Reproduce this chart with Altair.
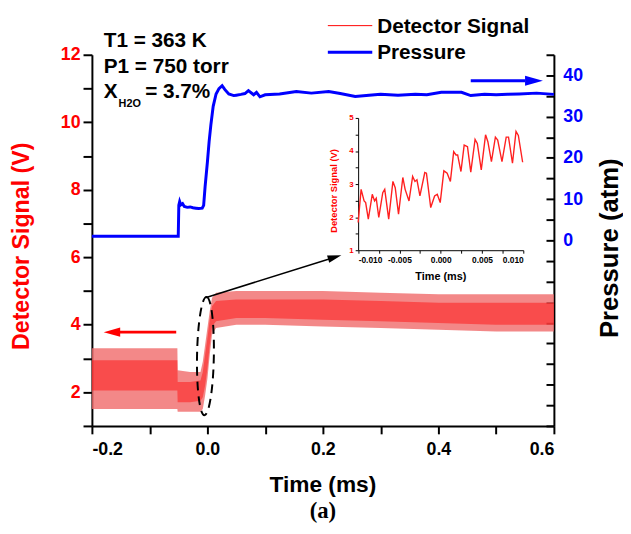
import altair as alt
import pandas as pd

# ---------------- data ----------------
# Detector signal (dense oscillation drawn as its envelope)
band_t  = [-0.2, -0.1, -0.052, -0.0515, -0.03, -0.012, -0.008, -0.004, 0.0, 0.004, 0.008, 0.015, 0.05, 0.1, 0.2, 0.3, 0.4, 0.5, 0.6]
band_lo = [1.5, 1.5, 1.5, 1.42, 1.42, 1.42, 1.5, 1.9, 2.4, 3.1, 3.7, 3.9, 4.0, 4.0, 3.95, 3.9, 3.85, 3.8, 3.8]
band_hi = [3.3, 3.3, 3.3, 2.65, 2.6, 2.6, 2.9, 3.4, 3.9, 4.4, 4.8, 4.95, 5.0, 5.0, 5.0, 4.95, 4.9, 4.9, 4.9]
core_lo = [2.05, 2.05, 2.05, 1.7, 1.7, 1.75, 1.85, 2.2, 2.7, 3.4, 3.95, 4.1, 4.2, 4.2, 4.15, 4.1, 4.05, 4.0, 4.0]
core_hi = [2.95, 2.95, 2.95, 2.3, 2.3, 2.35, 2.6, 3.1, 3.6, 4.15, 4.55, 4.7, 4.75, 4.75, 4.75, 4.7, 4.65, 4.65, 4.65]

# Pressure (atm)
p_t = [-0.2, -0.0505, -0.0495, -0.048, -0.046, -0.043, -0.04, -0.035, -0.03, -0.025, -0.02, -0.015, -0.009,
       -0.0065, -0.004, 0.0, 0.003, 0.006, 0.01, 0.015, 0.02, 0.0255, 0.03, 0.037, 0.0456, 0.05, 0.058, 0.065,
       0.071, 0.08, 0.085, 0.091, 0.1, 0.125, 0.154, 0.18, 0.21, 0.23, 0.256, 0.28, 0.3, 0.33, 0.36, 0.38,
       0.405, 0.44, 0.456, 0.48, 0.5, 0.52, 0.54, 0.57, 0.6]
p_v = [1.0, 1.0, 8.5, 9.4, 8.6, 8.9, 8.2, 8.0, 8.1, 7.9, 7.8, 7.7, 7.8,
       8.5, 13.0, 19.0, 24.0, 28.0, 32.5, 35.5, 36.8, 37.5, 36.6, 35.5, 35.1, 35.2, 35.4, 35.6,
       36.3, 35.3, 35.9, 34.8, 35.3, 35.5, 36.1, 35.7, 36.1, 35.6, 34.9, 35.2, 35.4, 35.2, 35.4, 35.3,
       35.9, 35.9, 35.1, 35.4, 35.3, 35.4, 35.5, 35.7, 35.4]

# Inset trace
ins_t = [-0.0100, -0.00964, -0.00928, -0.00909, -0.00877, -0.00829, -0.00801, -0.00781, -0.00750, -0.00702,
         -0.00678, -0.00630, -0.00579, -0.00551, -0.00511, -0.00459, -0.00431, -0.00384, -0.00340, -0.00312,
         -0.00288, -0.00252, -0.00193, -0.00173, -0.00121, -0.00074, -0.00042, -0.00006, 0.00038, 0.00078,
         0.00117, 0.00157, 0.00185, 0.00205, 0.00245, 0.00284, 0.00324, 0.00364, 0.00416, 0.00443,
         0.00491, 0.00543, 0.00571, 0.00614, 0.00662, 0.00690, 0.00742, 0.00793, 0.00821, 0.00869,
         0.00912, 0.00940, 0.00992]
ins_v = [1.84, 2.84, 2.49, 2.44, 1.94, 2.69, 2.49, 2.57, 1.99, 2.74,
         2.84, 1.94, 3.08, 2.89, 2.09, 3.20, 2.84, 2.49, 3.23, 3.08,
         3.13, 2.64, 3.35, 3.33, 2.29, 2.64, 2.69, 2.44, 3.40, 3.33,
         3.08, 3.98, 3.88, 3.88, 3.38, 4.18, 4.13, 3.36, 4.35, 4.23,
         3.43, 4.49, 4.28, 3.68, 4.42, 4.33, 3.68, 4.42, 4.42, 3.63,
         4.59, 4.47, 3.66]

x_ticks = [-0.2, -0.1, 0.0, 0.1, 0.2, 0.3, 0.4, 0.5, 0.6]
yl_ticks = list(range(1, 13))
yr_ticks = list(range(-45, 50, 5))
ix_ticks = [-0.01, -0.0075, -0.005, -0.0025, 0.0, 0.0025, 0.005, 0.0075, 0.01]
iy_ticks = [1, 1.5, 2, 2.5, 3, 3.5, 4, 4.5, 5]

# annotation anchors (data coordinates)
ell_t, ell_v = [-0.0034], [3.07]
conn_t, conn_v = [-0.0034, 0.2205], [4.80, 6.0]
rarrow_t, rarrow_v = [-0.054, -0.16], [3.78, 3.78]
rhead_t, rhead_v = [-0.1653], [3.78]
barrow_t, barrow_v = [0.456, 0.550], [38.7, 38.7]
bhead_t, bhead_v = [0.5655], [38.7]

FONT = "Liberation Sans"
RED = "#ff0000"
BLUE = "#0000ff"
W, H = 468, 376

xs = alt.Scale(domain=[-0.2, 0.6], nice=False, zero=False)
yl = alt.Scale(domain=[1, 12], nice=False, zero=False)
yr = alt.Scale(domain=[-45, 45], nice=False, zero=False)

common = dict(grid=False, domainColor="black", domainWidth=2, tickColor="black", tickWidth=2,
              labelFont=FONT, labelFontWeight="bold", title=None)

x_axis = alt.Axis(orient="bottom", values=x_ticks, tickSize=8, labelPadding=7, labelFontSize=18,
                  labelColor="black",
                  labelExpr="round(datum.value*10) % 2 == 0 ? (datum.value < 0 ? '-' + format(-datum.value, '.1f') : format(datum.value, '.1f')) : ''",
                  **common)
yl_axis = alt.Axis(orient="left", values=yl_ticks, tickSize=9, labelPadding=3, labelFontSize=18,
                   labelColor=RED, labelExpr="datum.value % 2 == 0 ? datum.label : ''", **common)
yr_axis = alt.Axis(orient="left", offset=-W, values=yr_ticks, tickSize=8, labelPadding=-17,
                   labelAlign="left", labelFontSize=18, labelColor=BLUE,
                   labelExpr="(datum.value >= 0 && datum.value <= 40 && datum.value % 10 == 0) ? datum.label : ''",
                   **common)

small = dict(grid=False, domainColor="black", domainWidth=1, tickColor="black", tickWidth=1,
             labelFont=FONT, labelFontWeight="bold", title=None)
ix_axis = alt.Axis(orient="bottom", offset=-178, values=ix_ticks, tickSize=3, labelPadding=2,
                   labelFontSize=8.5, labelColor="black",
                   labelExpr="round(datum.value*10000) % 50 == 0 ? (datum.value < 0 ? '-' + format(-datum.value, '.3f') : format(datum.value, '.3f')) : ''",
                   **small)
iy_axis = alt.Axis(orient="left", offset=-269.7, values=iy_ticks, tickSize=3, labelPadding=2,
                   labelFontSize=8, labelColor=RED,
                   labelExpr="datum.value % 1 == 0 ? format(datum.value, 'd') : ''", **small)

band_df = pd.DataFrame({"t": band_t, "lo": band_lo, "hi": band_hi, "clo": core_lo, "chi": core_hi})

band = alt.Chart(band_df).mark_area(color="#f06a6a", opacity=0.8).encode(
    x=alt.X("t:Q", scale=xs, axis=x_axis),
    y=alt.Y("lo:Q", scale=yl, axis=yl_axis),
    y2="hi:Q")
core = alt.Chart(band_df).mark_area(color="#ff1010", opacity=0.5).encode(
    x=alt.X("t:Q", scale=xs, axis=None),
    y=alt.Y("clo:Q", scale=yl, axis=None),
    y2="chi:Q")

press = alt.Chart(pd.DataFrame({"t": p_t, "p": p_v})).mark_line(color=BLUE, strokeWidth=3).encode(
    x=alt.X("t:Q", scale=xs, axis=None),
    y=alt.Y("p:Q", scale=yr, axis=yr_axis))

inset = alt.Chart(pd.DataFrame({"t": ins_t, "v": ins_v})).mark_line(color="#ff2020", strokeWidth=1.4).encode(
    x=alt.X("t:Q", scale=alt.Scale(domain=[-0.01, 0.01], range=[269.7, 437], nice=False, zero=False), axis=ix_axis),
    y=alt.Y("v:Q", scale=alt.Scale(domain=[1, 5], range=[198, 64], nice=False, zero=False), axis=iy_axis))

ELLIPSE = ("M0,-1 C0.0784,-1 0.142,-0.5523 0.142,0 C0.142,0.5523 0.0784,1 0,1 "
           "C-0.0784,1 -0.142,0.5523 -0.142,0 C-0.142,-0.5523 -0.0784,-1 0,-1 Z")
HEAD_R = "M1,0 L-1,-0.55 L-1,0.55 Z"
HEAD_L = "M-1,0 L1,-0.55 L1,0.55 Z"


def pts(ts, vs):
    return alt.Chart(pd.DataFrame({"t": ts, "v": vs}))


def enc(ch, yscale):
    return ch.encode(x=alt.X("t:Q", scale=xs, axis=None), y=alt.Y("v:Q", scale=yscale, axis=None))


ellipse = enc(pts(ell_t, ell_v).mark_point(shape=ELLIPSE, size=14400, filled=False, color="black",
                                           strokeWidth=2, strokeDash=[9, 6], opacity=1, angle=1), yl)
conn = enc(pts(conn_t, conn_v).mark_line(color="black", strokeWidth=1.5), yl)
conn_head = enc(pts([conn_t[1]], [conn_v[1]]).mark_point(shape=HEAD_R, size=196, filled=True,
                                                         color="black", opacity=1, angle=343), yl)
r_line = enc(pts(rarrow_t, rarrow_v).mark_line(color=RED, strokeWidth=3), yl)
r_head = enc(pts(rhead_t, rhead_v).mark_point(shape=HEAD_L, size=279, filled=True, color=RED,
                                              opacity=1), yl)
b_line = enc(pts(barrow_t, barrow_v).mark_line(color=BLUE, strokeWidth=3), yr)
b_head = enc(pts(bhead_t, bhead_v).mark_point(shape=HEAD_R, size=324, filled=True, color=BLUE,
                                              opacity=1), yr)

dummy = pd.DataFrame({"a": [0]})


def txt(s, x, y, size, color="black", angle=0, align="left", font=FONT, weight="bold"):
    return alt.Chart(dummy).mark_text(text=s, fontSize=size, font=font, fontWeight=weight, color=color,
                                      align=align, baseline="alphabetic", angle=angle).encode(
        x=alt.value(x), y=alt.value(y))


def hline(x1, x2, y, color, width):
    return alt.Chart(dummy).mark_rule(color=color, strokeWidth=width).encode(
        x=alt.value(x1), x2=alt.value(x2), y=alt.value(y))


texts = [
    txt("T1 = 363 K", 12, -8, 21),
    txt("P1 = 750 torr", 12, 18, 21),
    txt("X", 12, 44, 21),
    txt("H2O", 27, 53, 11),
    txt("= 3.7%", 54, 44, 21),
    hline(239, 284, -29.5, RED, 1),
    hline(239, 284, -2.5, BLUE, 3),
    txt("Detector Signal", 289, -22, 21),
    txt("Pressure", 289, 4.7, 21),
    txt("Detector Signal (V)", -64, 194, 23.5, color=RED, angle=270, align="center"),
    txt("Pressure (atm)", 533, 196, 26, angle=270, align="center"),
    txt("Time (ms)", 234, 443, 23, align="center"),
    txt("(a)", 234, 469, 23, align="center", font="Liberation Serif"),
    txt("Time (ms)", 353.5, 228, 11, align="center"),
    txt("Detector Signal (V)", 248, 138, 9.5, color=RED, angle=270, align="center"),
]

chart = alt.layer(band, core, press, inset, ellipse, conn, conn_head, r_line, r_head, b_line, b_head,
                  *texts).resolve_scale(x="independent", y="independent").properties(
    width=W, height=H, autosize=alt.AutoSizeParams(type="none"),
    padding={"left": 85, "top": 44, "right": 70, "bottom": 98},
    background="white",
).configure_view(stroke=None)

chart.save("out.html", embed_options={"renderer": "svg", "actions": False})
